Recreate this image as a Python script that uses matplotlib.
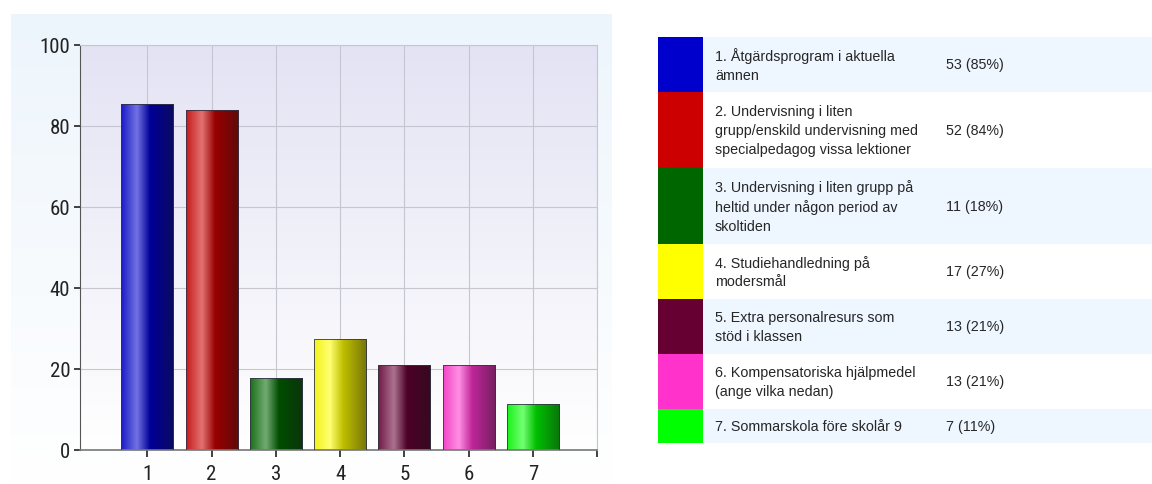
import numpy as np
import matplotlib.pyplot as plt
from matplotlib.patches import Rectangle
from matplotlib.colors import to_rgb
from matplotlib import font_manager

# data
categories = [1, 2, 3, 4, 5, 6, 7]
percent = [85.5, 83.9, 17.7, 27.4, 21.0, 21.0, 11.3]
counts = [53, 52, 11, 17, 13, 13, 7]
pct_labels = [85, 84, 18, 27, 21, 21, 11]
labels = [
    "1. Åtgärdsprogram i aktuella\nämnen",
    "2. Undervisning i liten\ngrupp/enskild undervisning med\nspecialpedagog vissa lektioner",
    "3. Undervisning i liten grupp på\nheltid under någon period av\nskoltiden",
    "4. Studiehandledning på\nmodersmål",
    "5. Extra personalresurs som\nstöd i klassen",
    "6. Kompensatoriska hjälpmedel\n(ange vilka nedan)",
    "7. Sommarskola före skolår 9",
]
colors = ["#0000CC", "#CC0000", "#006600", "#FFFF00", "#660033", "#FF33CC", "#00FF00"]

# pick a condensed face for the axis numbers if one is around
names = {f.name for f in font_manager.fontManager.ttflist}
cond = [n for n in ["Liberation Sans Narrow", "DejaVu Sans Condensed", "Roboto Condensed"] if n in names]
tick_family = cond + ["DejaVu Sans"]

W, H = 1152, 485
fig = plt.figure(figsize=(W / 100, H / 100), dpi=100)
fig.patch.set_facecolor("white")

# panel background behind the chart
bg = fig.add_axes([11 / W, 0, (612 - 11) / W, 1 - 15 / H], zorder=0)
grad = np.linspace(0, 1, 256)[:, None]
top_c = np.array(to_rgb("#EDF5FC"))
bot_c = np.array([1.0, 1.0, 1.0])
img = top_c * (1 - grad[..., None]) + bot_c * grad[..., None]
bg.imshow(img, aspect="auto", extent=(0, 1, 0, 1))
bg.axis("off")

ax = fig.add_axes([80 / W, 1 - 451 / H, (597 - 80) / W, (451 - 46) / H], zorder=1)

# plot area gradient
top_c = np.array(to_rgb("#E3E3F4"))
img = top_c * (1 - grad[..., None]) + bot_c * grad[..., None]
ax.imshow(img, aspect="auto", extent=(-0.05, 8, 0, 100), zorder=0)

ax.set_xticks(range(1, 9))
ax.set_xticklabels([str(c) for c in categories] + [""])
ax.set_yticks(range(0, 101, 20))
ax.grid(True, color="#C6C6D0", linewidth=0.8, zorder=1)
ax.set_axisbelow(True)
for s in ["top", "right"]:
    ax.spines[s].set_color("#C6C6D0")
    ax.spines[s].set_linewidth(0.8)
ax.spines["left"].set_color("#555555")
ax.spines["bottom"].set_color("#777777")
ax.spines["bottom"].set_linewidth(1.2)

ax.tick_params(axis="y", length=4, width=1.2, pad=3, color="#222222")
ax.tick_params(axis="x", length=5, width=1.2, pad=5, color="#222222")
for t in ax.get_xticklabels() + ax.get_yticklabels():
    t.set_fontfamily(tick_family)
    t.set_fontstretch("condensed")
    t.set_fontsize(15)
    t.set_color("#222222")

# shaded cylinder-like bars
width = 0.81
bars = ax.bar(categories, percent, width=width, color="none", edgecolor="#333344",
              linewidth=0.6, zorder=3)
tt = np.linspace(0, 1, 200)
stops = [0, 0.3, 0.55, 1]
for b, c in zip(bars, colors):
    base = np.array(to_rgb(c))
    light = base + (1 - base) * 0.45
    dark = base * 0.42 + 0.04
    edge = base * 0.85 + 0.1
    strip = np.stack([np.interp(tt, stops, [edge[k], light[k], base[k] * 0.75, dark[k]])
                      for k in range(3)], axis=-1)
    strip = np.clip(strip[None, :, :], 0, 1)
    x0 = b.get_x()
    h = b.get_height()
    im = ax.imshow(strip, aspect="auto", extent=(x0, x0 + width, 0, h), zorder=2,
                   interpolation="bilinear")
    im.set_clip_path(b)
ax.set_xlim(-0.05, 8)
ax.set_ylim(0, 100)

# legend table on the right
tab = fig.add_axes([0, 0, 1, 1], zorder=2)
tab.set_xlim(0, W)
tab.set_ylim(H, 0)
tab.axis("off")
y = 38
for i, (lab, c, n, p) in enumerate(zip(labels, colors, counts, pct_labels)):
    nlines = lab.count("\n") + 1
    rh = 13 + 21 * nlines
    row_bg = "#EEF6FF" if i % 2 == 0 else "white"
    tab.add_patch(Rectangle((703, y), W - 703, rh, facecolor=row_bg, edgecolor="none"))
    tab.add_patch(Rectangle((658, y), 45, rh, facecolor=c, edgecolor="none"))
    tab.text(715, y + rh / 2, lab, va="center", ha="left", fontsize=10.3,
             family="Liberation Sans", color="#262626", linespacing=1.45)
    tab.text(946, y + rh / 2, f"{n} ({p}%)", va="center", ha="left", fontsize=10.3,
             family="Liberation Sans", color="#262626")
    y += rh

fig.savefig("out.png", dpi=100)
